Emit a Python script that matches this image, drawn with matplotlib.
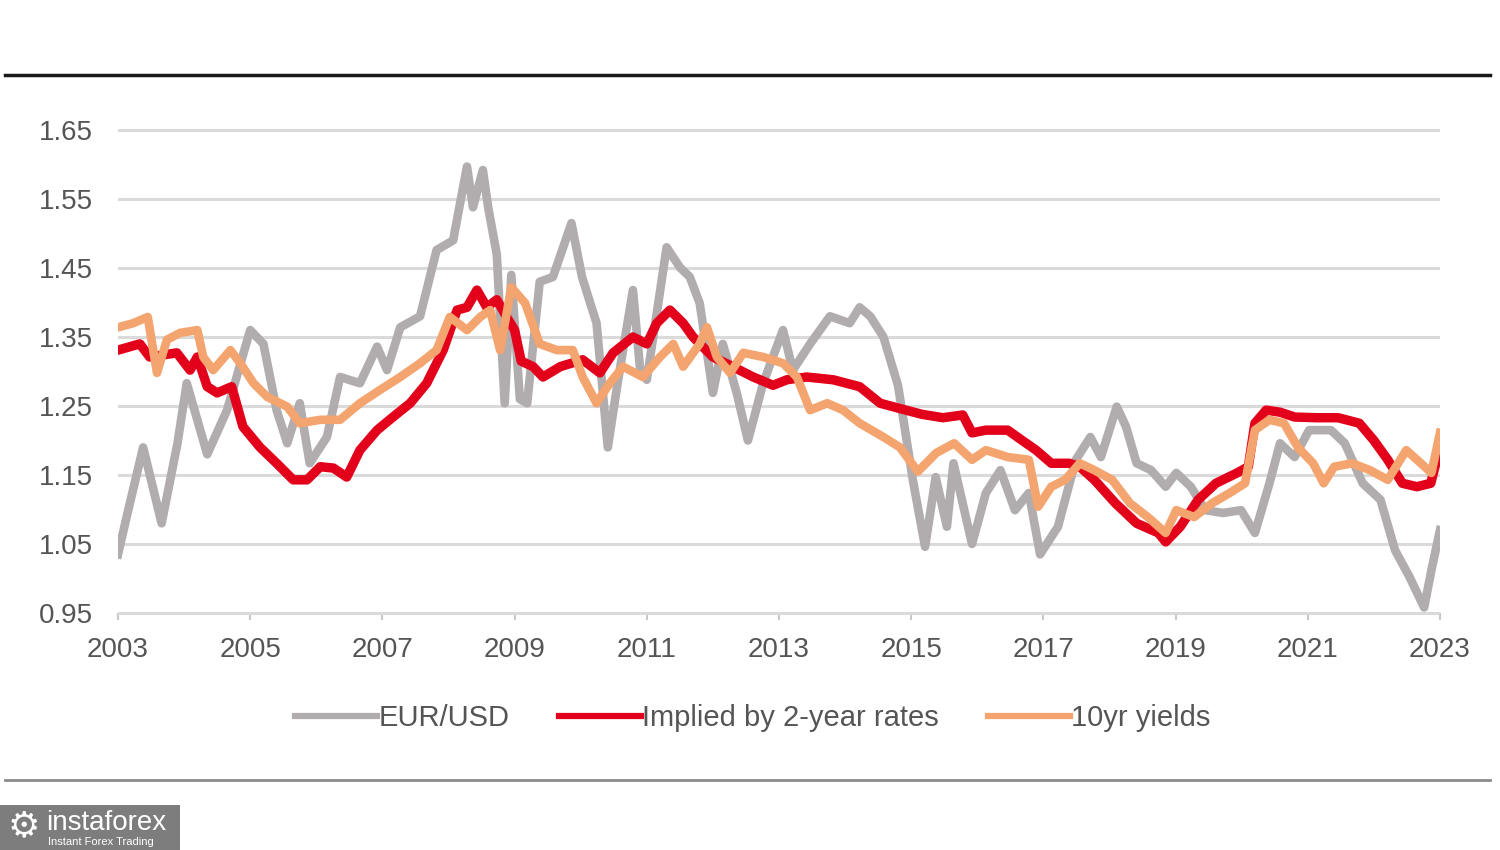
import numpy as np
import matplotlib.pyplot as plt
from matplotlib.lines import Line2D
from matplotlib.patches import Rectangle

# EUR/USD (decimal years)
eur_t = [2003.00, 2003.13, 2003.38, 2003.66, 2003.90, 2004.04, 2004.35, 2004.65, 2005.00, 2005.20,
         2005.40, 2005.56, 2005.75, 2005.90, 2006.16, 2006.36, 2006.66, 2006.92, 2007.07, 2007.27,
         2007.57, 2007.82, 2008.07, 2008.28, 2008.37, 2008.52, 2008.60, 2008.73, 2008.85, 2008.95,
         2009.08, 2009.19, 2009.38, 2009.58, 2009.86, 2010.02, 2010.24, 2010.41, 2010.55, 2010.79,
         2010.90, 2011.00, 2011.30, 2011.50, 2011.65, 2011.80, 2012.00, 2012.15, 2012.36, 2012.53,
         2012.76, 2013.06, 2013.21, 2013.47, 2013.77, 2014.07, 2014.22, 2014.38, 2014.58, 2014.80,
         2015.03, 2015.21, 2015.37, 2015.54, 2015.64, 2015.92, 2016.13, 2016.35, 2016.57, 2016.78,
         2016.95, 2017.22, 2017.49, 2017.71, 2017.87, 2018.11, 2018.25, 2018.41, 2018.63, 2018.85,
         2019.01, 2019.23, 2019.45, 2019.72, 2019.99, 2020.20, 2020.42, 2020.58, 2020.80, 2021.02,
         2021.35, 2021.56, 2021.83, 2022.10, 2022.32, 2022.54, 2022.76, 2022.87, 2023.00]
eur_v = [1.035, 1.089, 1.190, 1.080, 1.196, 1.283, 1.180, 1.244, 1.360, 1.340,
         1.244, 1.196, 1.254, 1.167, 1.205, 1.292, 1.283, 1.336, 1.302, 1.364,
         1.380, 1.476, 1.490, 1.597, 1.538, 1.592, 1.538, 1.470, 1.254, 1.440,
         1.260, 1.254, 1.430, 1.437, 1.515, 1.437, 1.370, 1.190, 1.278, 1.418,
         1.302, 1.288, 1.480, 1.451, 1.437, 1.399, 1.269, 1.340, 1.269, 1.200,
         1.283, 1.360, 1.302, 1.340, 1.380, 1.370, 1.393, 1.380, 1.350, 1.280,
         1.140, 1.046, 1.147, 1.075, 1.167, 1.050, 1.124, 1.157, 1.099, 1.124,
         1.035, 1.075, 1.172, 1.205, 1.176, 1.249, 1.220, 1.167, 1.157, 1.133,
         1.153, 1.133, 1.099, 1.095, 1.099, 1.066, 1.138, 1.196, 1.176, 1.215,
         1.215, 1.196, 1.138, 1.114, 1.041, 1.002, 0.958, 1.012, 1.070]

# Implied by 2-year rates
r2_t = [2003.00, 2003.33, 2003.48, 2003.89, 2004.09, 2004.20, 2004.35, 2004.50, 2004.72, 2004.89,
        2005.15, 2005.40, 2005.65, 2005.86, 2006.06, 2006.26, 2006.46, 2006.66, 2006.92, 2007.16,
        2007.42, 2007.67, 2007.92, 2008.13, 2008.28, 2008.43, 2008.58, 2008.73, 2008.88, 2009.00,
        2009.10, 2009.28, 2009.43, 2009.69, 2010.03, 2010.29, 2010.49, 2010.79, 2011.00, 2011.15,
        2011.35, 2011.55, 2011.70, 2012.00, 2012.30, 2012.61, 2012.91, 2013.12, 2013.42, 2013.82,
        2014.22, 2014.53, 2014.88, 2015.16, 2015.48, 2015.78, 2015.92, 2016.13, 2016.46, 2016.68,
        2016.89, 2017.12, 2017.39, 2017.55, 2017.77, 2018.09, 2018.41, 2018.74, 2018.85, 2019.07,
        2019.34, 2019.61, 2019.93, 2020.10, 2020.20, 2020.37, 2020.58, 2020.80, 2021.13, 2021.46,
        2021.78, 2022.00, 2022.21, 2022.43, 2022.65, 2022.86, 2023.00]
r2_v = [1.331, 1.340, 1.321, 1.327, 1.302, 1.321, 1.278, 1.269, 1.278, 1.220,
        1.190, 1.167, 1.143, 1.143, 1.162, 1.160, 1.147, 1.186, 1.215, 1.234,
        1.254, 1.283, 1.331, 1.389, 1.393, 1.418, 1.393, 1.404, 1.379, 1.360,
        1.315, 1.307, 1.292, 1.307, 1.317, 1.298, 1.327, 1.350, 1.340, 1.370,
        1.389, 1.370, 1.350, 1.321, 1.307, 1.292, 1.280, 1.288, 1.292, 1.288,
        1.278, 1.254, 1.245, 1.238, 1.233, 1.237, 1.211, 1.215, 1.215, 1.200,
        1.186, 1.167, 1.167, 1.162, 1.143, 1.109, 1.080, 1.066, 1.053, 1.075,
        1.114, 1.138, 1.153, 1.162, 1.225, 1.244, 1.241, 1.234, 1.233, 1.233,
        1.225, 1.200, 1.172, 1.138, 1.133, 1.138, 1.190]

# 10yr yields
y10_t = [2003.00, 2003.23, 2003.45, 2003.59, 2003.74, 2003.94, 2004.20, 2004.29, 2004.44, 2004.70,
         2004.85, 2005.05, 2005.26, 2005.56, 2005.75, 2006.06, 2006.36, 2006.66, 2006.96, 2007.27,
         2007.57, 2007.82, 2008.02, 2008.28, 2008.48, 2008.63, 2008.78, 2008.95, 2009.16, 2009.38,
         2009.64, 2009.88, 2010.03, 2010.24, 2010.44, 2010.64, 2010.94, 2011.20, 2011.40, 2011.55,
         2011.80, 2011.91, 2012.06, 2012.26, 2012.46, 2012.76, 2013.06, 2013.27, 2013.47, 2013.73,
         2013.97, 2014.22, 2014.58, 2014.83, 2015.10, 2015.38, 2015.65, 2015.92, 2016.13, 2016.46,
         2016.78, 2016.92, 2017.12, 2017.33, 2017.55, 2017.77, 2018.04, 2018.31, 2018.58, 2018.85,
         2019.01, 2019.28, 2019.55, 2019.82, 2020.05, 2020.20, 2020.42, 2020.64, 2020.85, 2021.08,
         2021.24, 2021.40, 2021.67, 2021.94, 2022.21, 2022.49, 2022.71, 2022.87, 2023.00]
y10_v = [1.364, 1.370, 1.379, 1.298, 1.346, 1.356, 1.360, 1.321, 1.302, 1.331,
         1.312, 1.283, 1.263, 1.249, 1.225, 1.230, 1.230, 1.254, 1.273, 1.292,
         1.312, 1.331, 1.379, 1.360, 1.379, 1.389, 1.331, 1.422, 1.399, 1.340,
         1.331, 1.331, 1.292, 1.254, 1.283, 1.307, 1.292, 1.321, 1.340, 1.307,
         1.340, 1.364, 1.321, 1.298, 1.327, 1.321, 1.312, 1.292, 1.244, 1.254,
         1.244, 1.225, 1.205, 1.190, 1.155, 1.182, 1.196, 1.172, 1.186, 1.176,
         1.172, 1.104, 1.133, 1.143, 1.167, 1.157, 1.143, 1.109, 1.089, 1.066,
         1.099, 1.089, 1.109, 1.124, 1.138, 1.215, 1.230, 1.225, 1.190, 1.167,
         1.138, 1.162, 1.167, 1.157, 1.143, 1.186, 1.167, 1.153, 1.211]

year_ticks = list(range(2003, 2024, 2))
y_ticks = [0.95, 1.05, 1.15, 1.25, 1.35, 1.45, 1.55, 1.65]

c_gray = '#b1acae'
c_red = '#e2001a'
c_orange = '#f4a46e'
c_text = '#555555'
plt.rcParams['font.family'] = ['Liberation Sans', 'DejaVu Sans']

fig = plt.figure(figsize=(15, 8.5), dpi=100)
ax = fig.add_axes([118/1500, 0.2626, (1440-118)/1500, 0.6007])

ax.plot(eur_t, eur_v, color=c_gray, lw=6.2, solid_joinstyle='round', zorder=3)
ax.plot(r2_t, r2_v, color=c_red, lw=6.8, solid_joinstyle='round', zorder=4)
ax.plot(y10_t, y10_v, color=c_orange, lw=6.2, solid_joinstyle='round', zorder=5)

ax.set_xlim(2003, 2023)
ax.set_ylim(0.93, 1.67)
ax.set_yticks(y_ticks)
ax.set_yticklabels(['%.2f' % v for v in y_ticks])
ax.set_xticks(year_ticks)
ax.set_xticklabels([str(y) for y in year_ticks])
ax.grid(axis='y', color='#dadada', lw=2.2, zorder=1)
for s in ax.spines.values():
    s.set_visible(False)
ax.tick_params(axis='y', length=0, pad=18, labelsize=20, labelcolor=c_text)
ax.tick_params(axis='x', length=5, width=1.5, color='#c8c8c8', pad=12, labelsize=20,
               labelcolor=c_text)
ax.spines['bottom'].set_position(('data', 0.95))

handles = [Line2D([], [], color=c_gray, lw=4.5),
           Line2D([], [], color=c_red, lw=4.5),
           Line2D([], [], color=c_orange, lw=4.5)]
labels = ['EUR/USD', 'Implied by 2-year rates', '10yr yields']
leg = fig.legend(handles, labels, loc='center', bbox_to_anchor=(753/1500, 1-718/850), ncol=3,
                 frameon=False, fontsize=21, handlelength=2.8, handletextpad=0.05,
                 columnspacing=1.7)
for txt in leg.get_texts():
    txt.set_color(c_text)

# top and bottom rules
fig.add_artist(Line2D([5/1500, 1490/1500], [1-75/850, 1-75/850], color='#1a1a1a', lw=2.5))
fig.add_artist(Line2D([5/1500, 1490/1500], [1-780/850, 1-780/850], color='#8a8a8a', lw=2))

# watermark box
fig.add_artist(Rectangle((0, 0), 180/1500, 45/850, transform=fig.transFigure,
                         facecolor='#7d7d7d', edgecolor='none'))
fig.text(24/1500, 1-826/850, '\u2699', color='white', fontsize=26, ha='center', va='center',
         family=['DejaVu Sans'])
fig.text(46/1500, 1-823/850, 'instaforex', color='white', fontsize=20, ha='left', va='center')
fig.text(48/1500, 1-842/850, 'Instant Forex Trading', color='white', fontsize=8, ha='left',
         va='center')

fig.savefig('out.png', dpi=100, facecolor='white')
